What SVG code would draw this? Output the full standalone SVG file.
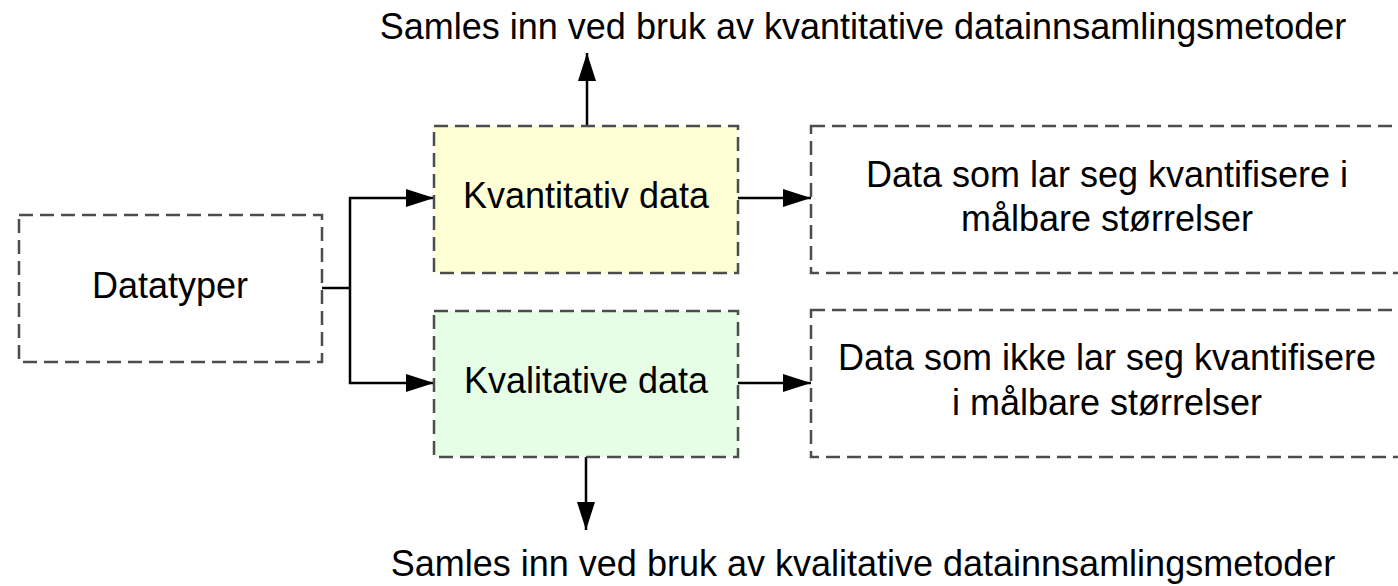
<svg xmlns="http://www.w3.org/2000/svg" width="1398" height="586" viewBox="0 0 1398 586">
<defs>
<marker id="arr" markerUnits="userSpaceOnUse" markerWidth="28" markerHeight="18" refX="28" refY="9" orient="auto">
<path d="M0,0 L28,9 L0,18 Z" fill="#000"/>
</marker>
<style>
.box{stroke:#4d4d4d;stroke-width:2.5;stroke-dasharray:14 7;}
.t{font-family:"Liberation Sans",Arial,sans-serif;font-size:36px;fill:#000;text-anchor:middle;}
.c{fill:none;stroke:#000;stroke-width:2.5;}
</style>
</defs>
<rect width="1398" height="586" fill="#fff"/>
<g id="connectors">
<polyline class="c" points="322,288 350,288"/>
<polyline class="c" points="350,288 350,198 434,198" marker-end="url(#arr)"/>
<polyline class="c" points="350,288 350,383 434,383" marker-end="url(#arr)"/>
<line class="c" x1="738" y1="198" x2="811" y2="198" marker-end="url(#arr)"/>
<line class="c" x1="738" y1="383" x2="811" y2="383" marker-end="url(#arr)"/>
<line class="c" x1="587" y1="126" x2="587" y2="53" marker-end="url(#arr)"/>
<line class="c" x1="586" y1="457" x2="586" y2="530" marker-end="url(#arr)"/>
</g>
<g id="datatyper">
<rect class="box" x="19" y="215" width="303" height="147" fill="#fff"/>
<text class="t" x="170" y="298">Datatyper</text>
</g>
<g id="kvantitativ">
<rect class="box" x="434" y="126" width="304" height="147" fill="#ffffd6"/>
<text class="t" x="586" y="208">Kvantitativ data</text>
</g>
<g id="kvalitative">
<rect class="box" x="434" y="311" width="304" height="146" fill="#e6fde6"/>
<text class="t" x="586" y="393">Kvalitative data</text>
</g>
<g id="kvant-desc">
<rect class="box" x="811" y="126" width="592" height="147" fill="#fff"/>
<text class="t" x="1107" y="187">Data som lar seg kvantifisere i</text>
<text class="t" x="1107" y="231">målbare størrelser</text>
</g>
<g id="kval-desc">
<rect class="box" x="811" y="310" width="592" height="147" fill="#fff"/>
<text class="t" x="1107" y="370">Data som ikke lar seg kvantifisere</text>
<text class="t" x="1107" y="415">i målbare størrelser</text>
</g>
<g id="kvant-method">
<text class="t" x="863" y="39">Samles inn ved bruk av kvantitative datainnsamlingsmetoder</text>
</g>
<g id="kval-method">
<text class="t" x="863" y="576">Samles inn ved bruk av kvalitative datainnsamlingsmetoder</text>
</g>
</svg>
